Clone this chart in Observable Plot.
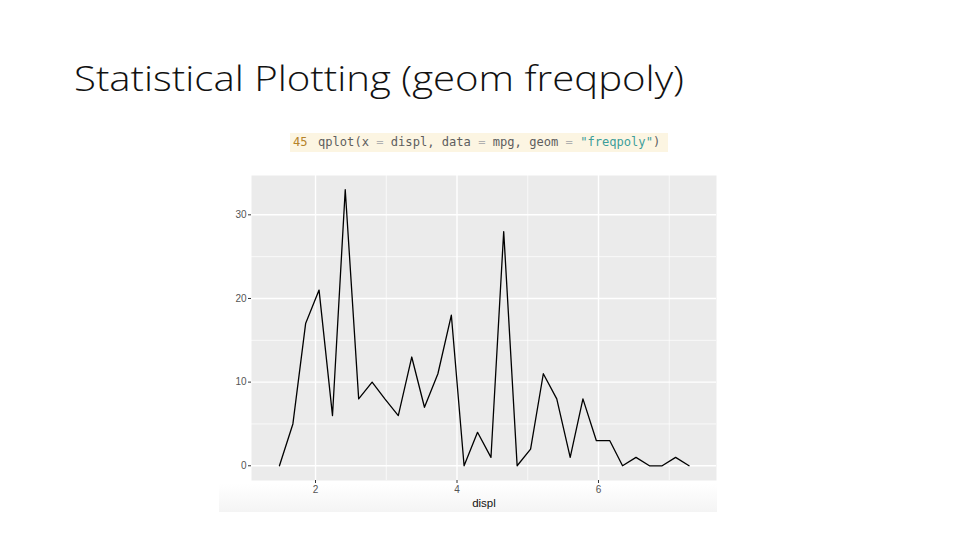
<!DOCTYPE html>
<html>
<head>
<meta charset="utf-8">
<script src="https://cdn.jsdelivr.net/npm/d3@7"></script>
<script src="https://cdn.jsdelivr.net/npm/@observablehq/plot@0.6"></script>
<style>
  html, body { margin: 0; padding: 0; background: #fff; }
  #page { position: relative; width: 960px; height: 540px; overflow: hidden; background: #fff; }
  #title { position: absolute; left: 74px; top: 54px; font-family: "Open Sans", sans-serif; font-weight: 300;
           font-size: 35px; color: #111; white-space: nowrap; transform-origin: 0 0; }
  #code { position: absolute; left: 290px; top: 133px; width: 378px; height: 19px; background: #fcf5e2;
          font-family: "DejaVu Sans Mono", monospace; font-size: 12.1px; line-height: 19px; white-space: pre; color: #5e5e5e; }
  #code .ln { position: absolute; left: 3px; color: #b5832a; }
  #code .src { position: absolute; left: 28px; }
  #code .op { color: #b0b0b0; }
  #code .str { color: #3d9e9a; }
  #band { position: absolute; left: 219px; top: 484px; width: 498px; height: 28px;
          background: linear-gradient(#ffffff, #f4f4f4); }
  #chart { position: absolute; left: 219px; top: 170px; }
</style>
</head>
<body>
<div id="page">
  <div id="title">Statistical Plotting (geom freqpoly)</div>
  <div id="code"><span class="ln">45</span><span class="src">qplot(x <span class="op">=</span> displ, data <span class="op">=</span> mpg, geom <span class="op">=</span> <span class="str">"freqpoly"</span>)</span></div>
  <div id="band"></div>
  <div id="chart"></div>
</div>
<script>
// Bin centres (displ) and counts
const displ = [1.49, 1.68, 1.86, 2.05, 2.24, 2.42, 2.61, 2.80, 2.98, 3.17, 3.36, 3.54, 3.73, 3.92, 4.10, 4.29,
               4.48, 4.66, 4.85, 5.04, 5.22, 5.41, 5.60, 5.78, 5.97, 6.16, 6.34, 6.53, 6.72, 6.90, 7.09, 7.28];
const count = [0, 5, 17, 21, 6, 33, 8, 10, 8, 6, 13, 7, 11, 18, 0, 4,
               1, 28, 0, 2, 11, 8, 1, 8, 3, 3, 0, 1, 0, 0, 1, 0];
const xTicks = [2, 4, 6];
const xMinor = [3, 5, 7];
const yTicks = [0, 10, 20, 30];
const yMinor = [5, 15, 25];
const xLabel = "displ";

const data = displ.map((d, i) => ({displ: d, count: count[i]}));

const chart = Plot.plot({
  width: 500,
  height: 345,
  marginLeft: 32,
  marginRight: 3,
  marginTop: 5,
  marginBottom: 35,
  style: {background: "transparent", fontFamily: "Liberation Sans, Arial, sans-serif", fontSize: "10px", color: "#4d4d4d"},
  x: {domain: [1.095, 7.668]},
  y: {domain: [-1.76, 34.7]},
  marks: [
    Plot.frame({fill: "#ebebeb", stroke: "none"}),
    Plot.gridY(yMinor, {stroke: "#ffffff", strokeOpacity: 1, strokeWidth: 0.7}),
    Plot.gridX(xMinor, {stroke: "#ffffff", strokeOpacity: 1, strokeWidth: 0.7}),
    Plot.gridY(yTicks, {stroke: "#ffffff", strokeOpacity: 1, strokeWidth: 1.4}),
    Plot.gridX(xTicks, {stroke: "#ffffff", strokeOpacity: 1, strokeWidth: 1.4}),
    Plot.line(data, {x: "displ", y: "count", stroke: "#000", strokeWidth: 1.3}),
    Plot.axisY(yTicks, {tickSize: 3, tickPadding: 2, label: null, stroke: "#333", fill: "#555"}),
    Plot.axisX(xTicks, {tickSize: 3, tickPadding: 2, label: null, stroke: "#333", fill: "#555"}),
    Plot.text([xLabel], {frameAnchor: "bottom", dy: 26, fontSize: 11.5, fill: "#111"})
  ]
});
document.getElementById("chart").appendChild(chart);

// fit title to reference width
const t = document.getElementById("title");
const w = t.getBoundingClientRect().width;
t.style.transform = `scaleX(${610 / w})`;
</script>
</body>
</html>
